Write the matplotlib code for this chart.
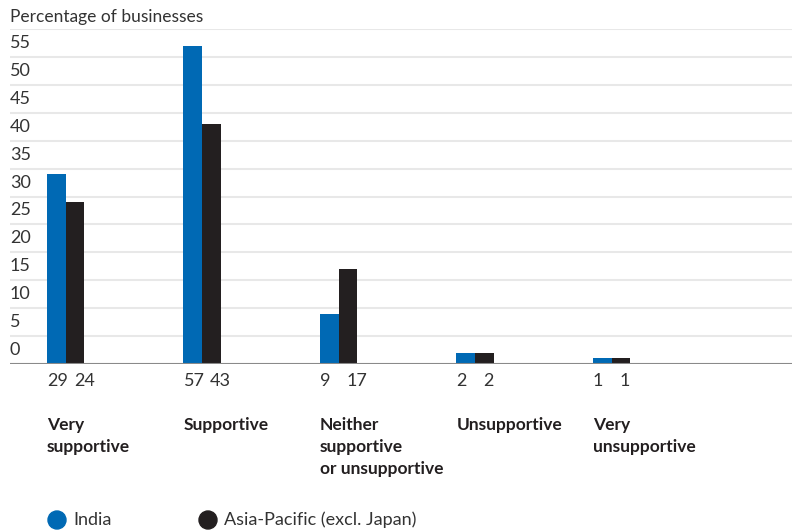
import numpy as np
import matplotlib.pyplot as plt
from matplotlib.patches import Ellipse
from matplotlib.transforms import blended_transform_factory, offset_copy

# Data
categories = ["Very\nsupportive", "Supportive", "Neither\nsupportive\nor unsupportive",
              "Unsupportive", "Very\nunsupportive"]
india = [34, 57, 9, 2, 1]          # bar heights as drawn
apac = [29, 43, 17, 2, 1]
india_labels = ["29", "57", "9", "2", "1"]   # printed values
apac_labels = ["24", "43", "17", "2", "1"]
yticks = [0, 5, 10, 15, 20, 25, 30, 35, 40, 45, 50, 55]

blue = "#0069b4"
black = "#231f20"
plt.rcParams['font.family'] = ['Lato', 'DejaVu Sans']

W, H = 797, 531
fig = plt.figure(figsize=(W / 100, H / 100), dpi=100)
# axes: x 10..792 px, y 29..364 px
ax = fig.add_axes([10 / W, 1 - 364 / H, 782 / W, 335 / H])

x = np.arange(len(categories))
bw = 0.136
ax.bar(x, india, width=bw, align='edge', color=blue)
ax.bar(x + bw, apac, width=bw, align='edge', color=black)

ax.set_xlim(-0.271, 5.458)
ax.set_ylim(0, 60)
for v in range(5, 61, 5):
    ax.axhline(v, color="#e8e8e8", lw=1.5, zorder=0)
ax.axhline(0, color="#8a8a8a", lw=1.5, zorder=3)
for s in ax.spines.values():
    s.set_visible(False)
ax.set_xticks([])
ax.set_yticks([])

# y labels sitting above their gridlines
ytr = blended_transform_factory(fig.transFigure, ax.transData)
for v in yticks:
    ax.text(10 / W, v, str(v), transform=offset_copy(ytr, fig=fig, y=6, units='dots'),
            ha='left', va='bottom', fontsize=13, color="#333333")

fig.text(10 / W, 1 - 22 / H, "Percentage of businesses", ha='left', va='baseline',
         fontsize=12.5, color="#333333")

# value labels and category labels
tr = blended_transform_factory(ax.transData, fig.transFigure)
for i in x:
    ax.text(i, 1 - 386 / H, india_labels[i], transform=tr, ha='left', va='baseline',
            fontsize=13, color="#333333")
    ax.text(i + bw + 0.06, 1 - 386 / H, apac_labels[i], transform=tr, ha='left',
            va='baseline', fontsize=13, color="#333333")
    ax.text(i, 1 - 417 / H, categories[i], transform=tr, ha='left', va='top',
            fontsize=12.5, fontweight='bold', color="#231f20", linespacing=1.48)

# legend
for lx, col, name in [(57, blue, "India"), (208, black, "Asia-Pacific (excl. Japan)")]:
    fig.add_artist(Ellipse((lx / W, 1 - 520 / H), 18 / W, 18 / H, color=col,
                           transform=fig.transFigure))
    fig.text((lx + 16) / W, 1 - 520 / H, name, ha='left', va='center',
             fontsize=13, color="#333333")

fig.savefig("out.png", dpi=100)
